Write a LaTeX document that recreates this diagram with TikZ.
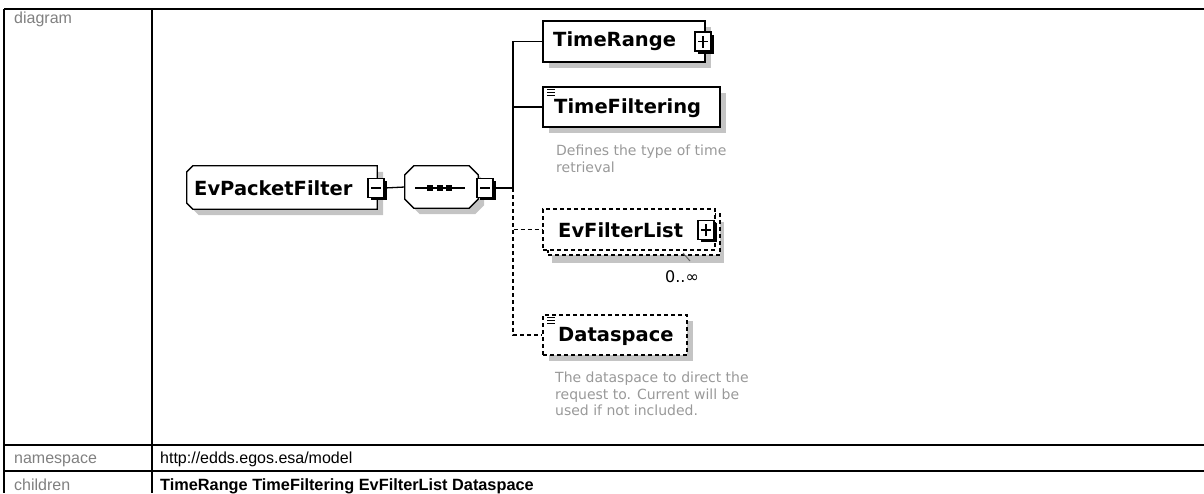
\documentclass[tikz,border=0pt]{standalone}
\usepackage{fontspec}
\setmainfont{Liberation Sans}
\newfontfamily\dvfont{DejaVu Sans}
\usetikzlibrary{shadows}
\definecolor{shadowgray}{HTML}{C4C4C4}
\definecolor{labelgray}{HTML}{808080}
\definecolor{descgray}{HTML}{999999}
\newcommand{\myoct}[2]{([xshift=#2]#1.north west) -- ([xshift=-#2]#1.north east) -- ([yshift=-#2]#1.north east) -- ([yshift=#2]#1.south east) -- ([xshift=-#2]#1.south east) -- ([xshift=#2]#1.south west) -- ([yshift=#2]#1.south west) -- ([yshift=-#2]#1.north west) -- cycle}
\newcommand{\myleftch}[2]{([xshift=#2]#1.north west) -- (#1.north east) -- (#1.south east) -- ([xshift=#2]#1.south west) -- ([yshift=#2]#1.south west) -- ([yshift=-#2]#1.north west) -- cycle}
\begin{document}
\begin{tikzpicture}[x=1pt,y=-1pt,
  tbl/.style={line width=2pt},
  shd/.style={drop shadow={shadow xshift=6pt,shadow yshift=-6pt,fill=shadowgray,opacity=1}},
  shdfill/.style={fill=shadowgray,transform canvas={shift={(6pt,-6pt)}}},
  elem/.style={draw,line width=1.3pt,fill=white,rectangle,inner sep=0pt},
  geom/.style={rectangle,inner sep=0pt},
  optl/.style={dash pattern=on 4pt off 3pt},
  pmbox/.style={draw,line width=1.2pt,fill=white,rectangle,inner sep=0pt,minimum width=16pt,minimum height=19pt,
     drop shadow={shadow xshift=2.5pt,shadow yshift=-2.5pt,fill=black,opacity=1}},
  conn/.style={line width=1.3pt},
  ename/.style={font=\dvfont\fontsize{19.5}{22}\selectfont\bfseries,inner sep=0pt},
  desc/.style={font=\dvfont\fontsize{14}{16.5}\selectfont,text=descgray,inner sep=0pt,align=left},
  lbl/.style={font=\fontsize{16}{19}\selectfont,text=labelgray,inner sep=0pt},
  val/.style={font=\fontsize{16}{19}\selectfont,inner sep=0pt},
  icon/.style={line width=0.9pt}
]
\useasboundingbox (0,0) rectangle (1204,493);
% table
\draw[tbl] (4,9) -- (1204,9);
\draw[tbl] (4,9) -- (4,493);
\draw[tbl] (152,9) -- (152,493);
\draw[tbl] (4,445) -- (1204,445);
\draw[tbl] (4,471) -- (1204,471);
\node[lbl,anchor=base west] (ldiag) at (14,23) {diagram};
\node[lbl,anchor=base west] (lns) at (14,463.5) {namespace};
\node[lbl,anchor=base west] (lch) at (14,490.5) {children};
\node[val,anchor=base west] (vns) at (160,463.5) {http://edds.egos.esa/model};
\node[val,anchor=base west,font=\fontsize{16.3}{19}\selectfont\bfseries] (vch) at (160,490.5) {TimeRange TimeFiltering EvFilterList Dataspace};

% EvPacketFilter
\node[geom,minimum width=190pt,minimum height=43pt] (epf) at (282,187.5) {};
\fill[shdfill] \myleftch{epf}{6pt};
\draw[line width=1.3pt,fill=white] \myleftch{epf}{6pt};
\node[ename,anchor=west] (epft) at (194,188) {EvPacketFilter};
\node[pmbox] (epfm) at (376,188) {};
\draw[line width=1.2pt] ([xshift=-5pt]epfm.center) -- ([xshift=5pt]epfm.center);

% sequence
\node[geom,minimum width=73pt,minimum height=42pt] (seq) at (441.5,187) {};
\fill[shdfill] \myoct{seq}{9pt};
\draw[line width=1.3pt,fill=white] \myoct{seq}{9pt};
\coordinate (sqa) at (415,188);
\coordinate (sqb) at (465,188);
\draw[line width=1.2pt] (sqa) -- (sqb);
\foreach \cx in {430,439.5,449} \fill (\cx-3,185) rectangle (\cx+3,191);
\node[pmbox] (seqm) at (485,188) {};
\draw[line width=1.2pt] ([xshift=-5pt]seqm.center) -- ([xshift=5pt]seqm.center);
\draw[conn] (epfm.east) -- (seq.west);
\coordinate (trunk) at (513,188);
\draw[conn] (seqm.east) -- (trunk);

% TimeRange
\node[elem,shd,minimum width=162pt,minimum height=41pt] (tr) at (624,41.5) {};
\node[ename,anchor=west] (trt) at (553,41) {TimeRange};
\node[pmbox] (trp) at (703,41.5) {};
\draw[line width=1.2pt] ([xshift=-5pt]trp.center) -- ([xshift=5pt]trp.center);
\draw[line width=1.2pt] ([yshift=-6pt]trp.center) -- ([yshift=6pt]trp.center);

% TimeFiltering
\node[elem,shd,minimum width=177pt,minimum height=40pt] (tf) at (631.5,107) {};
\draw[icon] (547,89) -- (555,89) (547,92) -- (555,92) (547,95) -- (555,95);
\node[ename,anchor=west] (tft) at (554,108) {TimeFiltering};
\node[desc,anchor=north west] (tfd) at (556,145) {Defines the type of time\\retrieval};

% EvFilterList
\node[draw,line width=1.3pt,optl,fill=white,drop shadow={shadow xshift=4pt,shadow yshift=-8pt,fill=shadowgray,opacity=1},
  rectangle,inner sep=0pt,minimum width=172pt,minimum height=41pt] (eflb) at (634,234.5) {};
\node[elem,optl,minimum width=172pt,minimum height=41pt] (efl) at (629,229.5) {};
\node[ename,anchor=west] (eflt) at (558,230) {EvFilterList};
\node[pmbox] (eflp) at (706,230) {};
\draw[line width=1.2pt] ([xshift=-5pt]eflp.center) -- ([xshift=5pt]eflp.center);
\draw[line width=1.2pt] ([yshift=-6pt]eflp.center) -- ([yshift=6pt]eflp.center);
\coordinate (tick1) at (683,253);
\coordinate (tick2) at (690,261);
\draw[line width=1pt,black!60] (tick1) -- (tick2);
\node[font=\dvfont\fontsize{16}{18}\selectfont,inner sep=0pt] (card) at (682,277) {0..∞};

% Dataspace
\node[elem,optl,shd,minimum width=144pt,minimum height=40pt] (ds) at (615,335) {};
\draw[icon] (547,317) -- (555,317) (547,320) -- (555,320) (547,323) -- (555,323);
\node[ename,anchor=west] (dst) at (558,336) {Dataspace};
\node[desc,anchor=north west] (dsd) at (555,372) {The dataspace to direct the\\request to. Current will be\\used if not included.};

% connectors
\draw[conn] (trunk) |- (tr.west);
\draw[conn] (trunk) |- (tf.west);
\draw[conn,optl] (trunk) |- (efl.west);
\draw[conn,optl] (trunk) |- (ds.west);
\end{tikzpicture}
\end{document}
